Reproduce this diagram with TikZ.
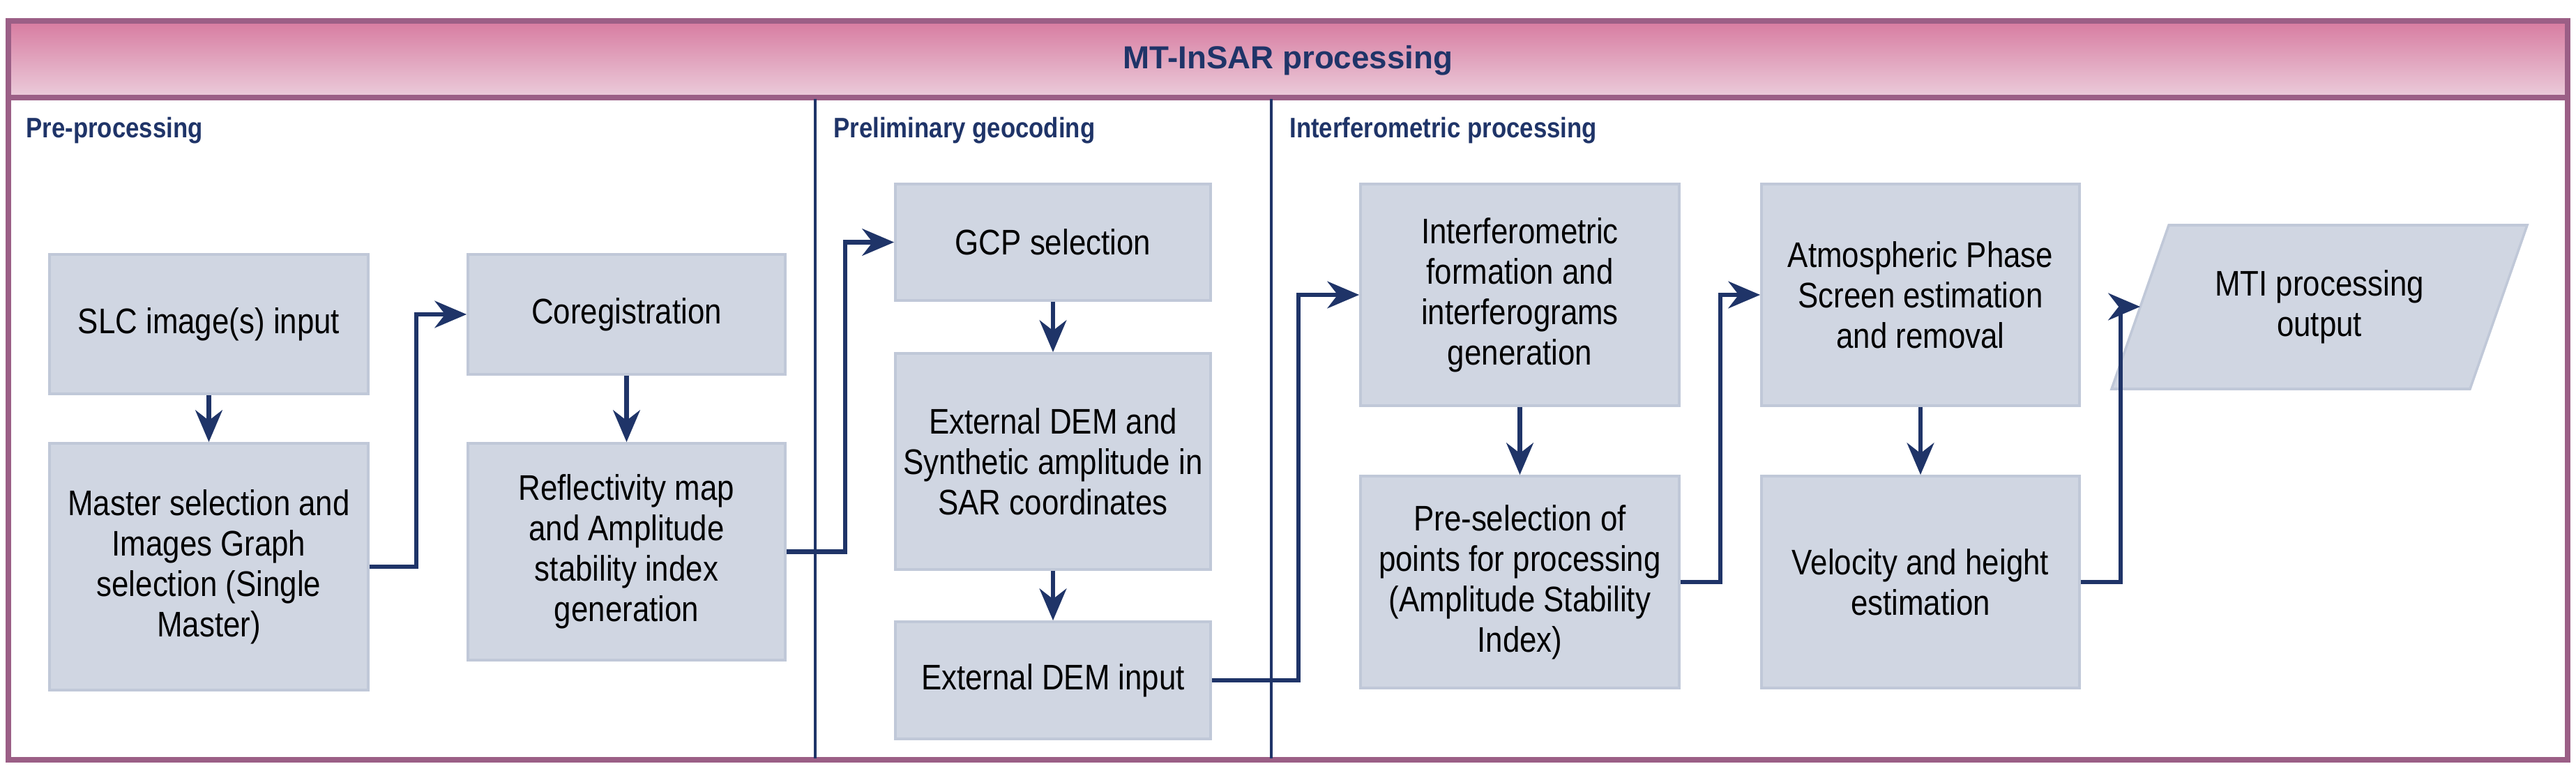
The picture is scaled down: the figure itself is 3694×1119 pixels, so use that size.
\documentclass[tikz,border=0pt]{standalone}
\usepackage{fontspec}
\setmainfont{Liberation Sans}
\newfontfamily\cond[FakeStretch=0.86]{Liberation Sans}
\usetikzlibrary{arrows.meta}
\definecolor{frm}{HTML}{9B5F86}
\definecolor{navy}{HTML}{1F3468}
\definecolor{boxf}{HTML}{D0D6E2}
\definecolor{boxd}{HTML}{C0C8D8}
\definecolor{hdtop}{HTML}{D77BA0}
\definecolor{hdbot}{HTML}{EBCBDA}
\begin{document}
\begin{tikzpicture}[x=0.01cm,y=-0.01cm,
  box/.style={fill=boxf,draw=boxd,line width=1pt,inner sep=0pt,align=center,font=\cond\fontsize{14.5}{16.5}\selectfont},
  sec/.style={anchor=west,text=navy,font=\cond\bfseries\fontsize{11.5}{13}\selectfont},
  arr/.style={draw=navy,line width=1.8pt,-{Stealth[length=13pt,width=11pt]}},
  div/.style={draw=navy,line width=1.1pt}]
\useasboundingbox (0,0) rectangle (3694,1119);
\fill[white] (0,0) rectangle (3694,1119);
% header
\shade[top color=hdtop,bottom color=hdbot] (12,30) rectangle (3682,138);
\node[text=navy,font=\bfseries\fontsize{13}{15}\selectfont] (title) at (1847,87) {MT-InSAR processing};
\draw[frm,line width=2.4pt] (12,30) rectangle (3682,1090);
\draw[frm,line width=2.4pt] (12,140) -- (3682,140);
% dividers
\draw[div] (1169,142) -- (1169,1088);
\draw[div] (1823,142) -- (1823,1088);
\node[sec] (s1) at (25,187) {Pre-processing};
\node[sec] (s2) at (1183,187) {Preliminary geocoding};
\node[sec] (s3) at (1837,187) {Interferometric processing};
% boxes
\node[box,minimum width=4.57cm,minimum height=2.0cm] (slc) at (299.5,465) {SLC image(s) input};
\node[box,minimum width=4.55cm,minimum height=1.72cm] (coreg) at (898.5,451) {Coregistration};
\node[box,minimum width=4.57cm,minimum height=3.54cm] (master) at (299.5,813) {Master selection and\\Images Graph\\selection (Single\\Master)};
\node[box,minimum width=4.55cm,minimum height=3.11cm] (refl) at (898.5,791.5) {Reflectivity map\\and Amplitude\\stability index\\generation};
\node[box,minimum width=4.52cm,minimum height=1.67cm] (gcp) at (1510,347.5) {GCP selection};
\node[box,minimum width=4.52cm,minimum height=3.10cm] (extsyn) at (1510,662) {External DEM and\\Synthetic amplitude in\\SAR coordinates};
\node[box,minimum width=4.52cm,minimum height=1.68cm] (extin) at (1510,976) {External DEM input};
\node[box,minimum width=4.57cm,minimum height=3.18cm] (interf) at (2179.5,423) {Interferometric\\formation and\\interferograms\\generation};
\node[box,minimum width=4.57cm,minimum height=3.04cm] (presel) at (2179.5,835) {Pre-selection of\\points for processing\\(Amplitude Stability\\Index)};
\node[box,minimum width=4.56cm,minimum height=3.18cm] (aps) at (2754,423) {Atmospheric Phase\\Screen estimation\\and removal};
\node[box,minimum width=4.56cm,minimum height=3.04cm] (vel) at (2754,835) {Velocity and height\\estimation};
% parallelogram
\fill[boxf] (3110,323) -- (3624,323) -- (3542,558) -- (3028,558) -- cycle;
\draw[boxd,line width=1pt] (3110,323) -- (3624,323) -- (3542,558) -- (3028,558) -- cycle;
\node[align=center,font=\cond\fontsize{14.5}{16.5}\selectfont] (mti) at (3326,440) {MTI processing\\output};
\coordinate (mtiL) at (3069,440);
% arrows
\draw[arr] (slc.south) -- (master.north);
\draw[arr] (coreg.south) -- (refl.north);
\draw[arr] (gcp.south) -- (extsyn.north);
\draw[arr] (extsyn.south) -- (extin.north);
\draw[arr] (interf.south) -- (presel.north);
\draw[arr] (aps.south) -- (vel.north);
\draw[arr] (master.east) -- ++(67,0) |- (coreg.west);
\draw[arr] (refl.east) -- ++(84,0) |- (gcp.west);
\draw[arr] (extin.east) -- ++(124,0) |- (interf.west);
\draw[arr] (presel.east) -- ++(57,0) |- (aps.west);
\draw[arr] (vel.east) -- ++(57,0) |- (mtiL);
\end{tikzpicture}
\end{document}
